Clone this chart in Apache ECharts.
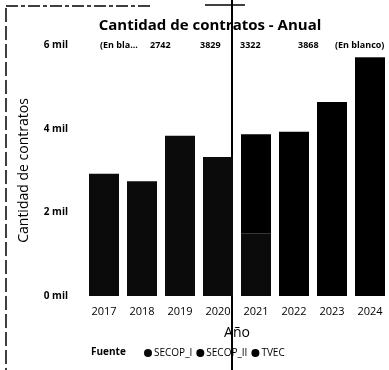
<!DOCTYPE html>
<html>
<head>
<meta charset="utf-8">
<script src="https://cdn.jsdelivr.net/npm/echarts@6/dist/echarts.min.js"></script>
<style>
  html, body { margin: 0; padding: 0; background: #fff; }
  #chart { width: 389px; height: 370px; }
</style>
</head>
<body>
<div id="chart"></div>
<script>
// Contratos por año, apilados por fuente
const years = ['2017', '2018', '2019', '2020', '2021', '2022', '2023', '2024'];
const secopI  = [2920, 2742, 3829, 3322, 1500, 0, 0, 0];
const secopII = [0, 0, 0, 0, 2368, 3925, 4640, 5700];
const tvec    = [0, 0, 0, 0, 0, 0, 0, 10];
const sources = ['SECOP_I', 'SECOP_II', 'TVEC'];
const yTicks = [0, 2000, 4000, 6000];
// Fila de etiquetas superior
const topLabels = ['(En bla...', '2742', '3829', '3322', '3868', '(En blanco)'];
const topLabelX = [100, 150, 200, 240, 298, 335];

const chart = echarts.init(document.getElementById('chart'));
const font = 'Open Sans';

chart.setOption({
  animation: false,
  backgroundColor: '#fff',
  title: {
    text: 'Cantidad de contratos - Anual',
    left: 205, top: 13, textAlign: 'center',
    textStyle: { fontFamily: font, fontSize: 15, fontWeight: 'bold', color: '#000' }
  },
  legend: {
    data: sources,
    left: 139, top: 343,
    icon: 'circle', itemWidth: 8, itemHeight: 8, itemGap: 4,
    textStyle: { fontFamily: font, fontSize: 10, color: '#000', padding: [0, 0, 0, -3] }
  },
  grid: { left: 85, width: 305, top: 45, bottom: 74 },
  xAxis: {
    type: 'category',
    data: years,
    name: 'Año', nameLocation: 'middle', nameGap: 30,
    nameTextStyle: { fontFamily: font, fontSize: 14, color: '#000' },
    axisLine: { show: false }, axisTick: { show: false },
    axisLabel: { fontFamily: font, fontSize: 11, color: '#000', margin: 10 }
  },
  yAxis: {
    type: 'value',
    min: yTicks[0], max: yTicks[yTicks.length - 1], interval: 2000,
    name: 'Cantidad de contratos', nameLocation: 'middle', nameGap: 54,
    nameTextStyle: { fontFamily: font, fontSize: 14, color: '#000' },
    splitLine: { show: false },
    axisLine: { show: false }, axisTick: { show: false },
    axisLabel: {
      fontFamily: font, fontSize: 10, fontWeight: 'bold', color: '#000', margin: 17,
      formatter: v => (v / 1000) + ' mil'
    }
  },
  series: [
    { name: 'SECOP_I', type: 'bar', stack: 'total', barWidth: 30, data: secopI, itemStyle: { color: '#0b0b0b' } },
    { name: 'SECOP_II', type: 'bar', stack: 'total', barWidth: 30, data: secopII, itemStyle: { color: '#000' } },
    { name: 'TVEC', type: 'bar', stack: 'total', barWidth: 30, data: tvec, itemStyle: { color: '#000' } }
  ],
  graphic: [
    { type: 'text', left: 91, top: 347,
      style: { text: 'Fuente', font: 'bold 10px "Open Sans"', fill: '#000' } },
    ...topLabels.map((t, i) => ({
      type: 'text', left: topLabelX[i], top: 41,
      style: { text: t, font: 'bold 9px "Open Sans"', fill: '#000' }
    })),
    { type: 'line', shape: { x1: 232, y1: 0, x2: 232, y2: 370 },
      style: { stroke: '#000', lineWidth: 2 } },
    { type: 'line', shape: { x1: 6, y1: 8, x2: 6, y2: 370 },
      style: { stroke: '#000', lineWidth: 1.5, lineDash: [14, 4] } },
    { type: 'line', shape: { x1: 6, y1: 6, x2: 150, y2: 6 },
      style: { stroke: '#000', lineWidth: 1.5, lineDash: [12, 3, 4, 3] } },
    { type: 'line', shape: { x1: 205, y1: 5, x2: 245, y2: 5 },
      style: { stroke: '#000', lineWidth: 1.5 } }
  ]
});
</script>
</body>
</html>
